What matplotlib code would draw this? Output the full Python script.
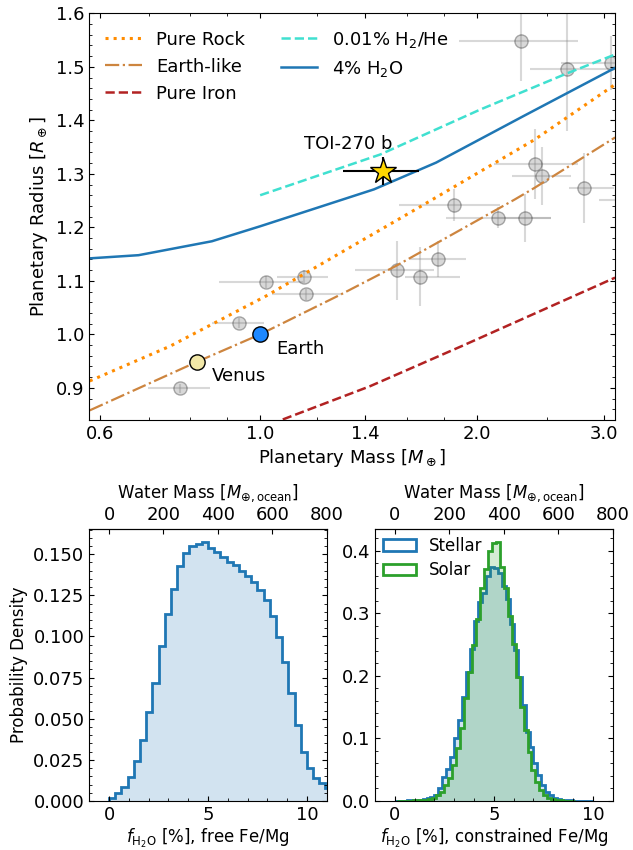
import numpy as np
import matplotlib
matplotlib.use("Agg")
import matplotlib.pyplot as plt
from matplotlib.ticker import FixedLocator, FixedFormatter, MultipleLocator, NullLocator, FormatStrFormatter
from matplotlib.patches import Patch

# ---------------- data: mass-radius panel ----------------
rock_mass = [0.58, 0.75, 1.02, 1.675, 2.405, 3.11]
rock_radius = [0.913, 0.978, 1.072, 1.24, 1.364, 1.467]
earthlike_mass = [0.58, 0.818, 1.0, 1.296, 1.544, 2.256, 2.405, 3.11]
earthlike_radius = [0.858, 0.949, 1.0, 1.075, 1.128, 1.252, 1.274, 1.368]
iron_mass = [1.075, 1.42, 1.904, 3.11]
iron_radius = [0.841, 0.903, 0.978, 1.106]
h2he_mass = [1.0, 1.467, 2.02, 2.67, 3.11]
h2he_radius = [1.26, 1.336, 1.42, 1.488, 1.523]
h2o_mass = [0.579, 0.678, 0.857, 1.0, 1.088, 1.439, 1.755, 2.321, 3.11]
h2o_radius = [1.142, 1.148, 1.174, 1.202, 1.218, 1.271, 1.321, 1.408, 1.498]

sample_mass = [2.30, 2.67, 3.07, 2.41, 2.46, 2.82, 1.86, 2.14, 2.33, 1.547, 1.665,
               1.765, 1.018, 1.149, 1.158, 0.935, 0.773, 3.30]
sample_radius = [1.549, 1.495, 1.507, 1.318, 1.296, 1.274, 1.241, 1.218, 1.218, 1.12,
                 1.108, 1.141, 1.098, 1.108, 1.075, 1.021, 0.899, 1.252]
sample_mass_lo = [1.89, 2.37, 2.62, 2.11, 2.24, 2.68, 1.56, 1.81, 2.10, 1.355, 1.589,
                  1.617, 0.877, 1.057, 1.038, 0.857, 0.699, 2.95]
sample_mass_hi = [2.76, 3.30, 3.60, 2.76, 2.70, 3.10, 2.15, 2.53, 2.53, 1.744, 1.893,
                  1.931, 1.147, 1.244, 1.296, 1.014, 0.852, 3.70]
sample_radius_err = [0.076, 0.115, 0.05, 0.065, 0.055, 0.065, 0.03, 0.02, 0.045, 0.055,
                     0.055, 0.033, 0.012, 0.012, 0.01, 0.01, 0.008, 0.03]

earth_mr = (1.0, 1.0)
venus_mr = (0.818, 0.949)
toi_mass, toi_radius = 1.482, 1.305
toi_mass_lo, toi_mass_hi = 1.303, 1.662
toi_radius_err = 0.026

mass_ticks = [0.6, 1.0, 1.4, 2.0, 3.0]
mass_tick_labels = ["0.6", "1.0", "1.4", "2.0", "3.0"]

# ---------------- data: water fraction histograms ----------------
free_start, free_width = 0.0, 0.3125
free_density = [0.002, 0.0047, 0.0083, 0.0144, 0.0242, 0.037, 0.054, 0.072, 0.094,
                0.1137, 0.129, 0.1428, 0.1508, 0.1553, 0.1565, 0.1573, 0.154, 0.1516,
                0.1484, 0.145, 0.1434, 0.14, 0.1369, 0.1334, 0.1284, 0.1222, 0.1127,
                0.0995, 0.0844, 0.0658, 0.046, 0.0299, 0.0198, 0.0139, 0.0107, 0.0077]

stellar_start, stellar_width = 0.0, 0.2
stellar_density = [0.0003, 0.0005, 0.0005, 0.0008, 0.001, 0.0012, 0.002, 0.003, 0.005,
                   0.007, 0.0096, 0.020, 0.0385, 0.0515, 0.071, 0.100, 0.129, 0.166,
                   0.206, 0.243, 0.288, 0.318, 0.333, 0.36, 0.374, 0.372, 0.365, 0.344,
                   0.323, 0.283, 0.241, 0.198, 0.153, 0.111, 0.087, 0.06, 0.0415, 0.0255,
                   0.015, 0.0096, 0.0053, 0.003, 0.002, 0.0012, 0.0008, 0.0005, 0.0004,
                   0.0003, 0.0002, 0.0002]

solar_start, solar_width = 0.1, 0.2
solar_density = [0.0003, 0.0003, 0.0005, 0.0005, 0.0008, 0.001, 0.0012, 0.002, 0.003,
                 0.005, 0.009, 0.015, 0.025, 0.036, 0.057, 0.084, 0.116, 0.164, 0.206,
                 0.249, 0.291, 0.34, 0.371, 0.40, 0.413, 0.414, 0.375, 0.34, 0.296,
                 0.251, 0.198, 0.150, 0.113, 0.079, 0.049, 0.031, 0.0175, 0.0096, 0.005,
                 0.003, 0.0015, 0.001, 0.0005, 0.0003, 0.0002]

oceans_per_percent = 800 / 11.0
water_ticks = [0, 200, 400, 600, 800]

# ---------------- style ----------------
plt.rcParams.update({
    "font.family": "DejaVu Sans",
    "font.size": 13,
    "mathtext.fontset": "dejavusans",
    "xtick.direction": "in",
    "ytick.direction": "in",
    "xtick.top": True,
    "ytick.right": True,
    "xtick.labelsize": 13,
    "ytick.labelsize": 13,
    "axes.labelsize": 13,
})

fig = plt.figure(figsize=(6.33, 8.5), dpi=100)
W, H = 633.0, 850.0

# ---------------- top panel ----------------
ax = fig.add_axes([89.2 / W, 1 - 420 / H, (614.7 - 89.2) / W, (420 - 13.3) / H])
ax.set_xscale("log")

ax.plot(rock_mass, rock_radius, ls=":", lw=2.2, color="darkorange", label="Pure Rock")
ax.plot(earthlike_mass, earthlike_radius, ls="-.", lw=1.6, color="peru", label="Earth-like")
ax.plot(iron_mass, iron_radius, ls="--", lw=1.8, color="firebrick", label="Pure Iron")
ax.plot(h2he_mass, h2he_radius, ls="--", lw=1.8, color="turquoise", label="0.01% H$_2$/He")
ax.plot(h2o_mass, h2o_radius, ls="-", lw=1.8, color="#1f77b4", label="4% H$_2$O")

sm = np.array(sample_mass)
xerr = [sm - np.array(sample_mass_lo), np.array(sample_mass_hi) - sm]
ax.errorbar(sample_mass, sample_radius, xerr=xerr, yerr=sample_radius_err, fmt="o",
            ms=9.5, color="grey", mfc="grey", mec="k", ecolor="grey", elinewidth=1.5,
            capsize=0, alpha=0.3, zorder=1)

ax.plot(*earth_mr, "o", ms=11, mfc="#1e88ff", mec="k", mew=1, zorder=4)
ax.plot(*venus_mr, "o", ms=11, mfc="#f2e8a8", mec="k", mew=1, zorder=4)
ax.text(1.054, 0.972, "Earth", ha="left", va="center")
ax.text(0.857, 0.922, "Venus", ha="left", va="center")

ax.errorbar([toi_mass], [toi_radius],
            xerr=[[toi_mass - toi_mass_lo], [toi_mass_hi - toi_mass]],
            yerr=toi_radius_err, fmt="*", ms=19, mfc="gold", mec="k", mew=1,
            ecolor="k", elinewidth=1.5, capsize=0, zorder=6)
ax.text(1.327, 1.355, "TOI-270 b", ha="center", va="center")

ax.set_xlim(0.579, 3.106)
ax.set_ylim(0.84, 1.6)
ax.xaxis.set_major_locator(FixedLocator(mass_ticks))
ax.xaxis.set_major_formatter(FixedFormatter(mass_tick_labels))
ax.xaxis.set_minor_locator(FixedLocator([0.7, 0.8, 0.9, 1.2, 1.6, 1.8, 2.5]))
ax.xaxis.set_minor_formatter(FixedFormatter([]))
ax.yaxis.set_major_locator(MultipleLocator(0.1))
ax.yaxis.set_minor_locator(MultipleLocator(0.02))
ax.tick_params(which="both", top=True, right=True)
ax.set_xlabel(r"Planetary Mass [$M_\oplus$]", labelpad=3)
ax.set_ylabel(r"Planetary Radius [$R_\oplus$]")
ax.legend(ncol=2, loc="upper left", frameon=False, fontsize=13)


def f2w(f):
    return f * oceans_per_percent


def w2f(w):
    return w / oceans_per_percent


def style_hist_axis(a, ymajor, yminor):
    a.set_xlim(-1, 11)
    a.xaxis.set_major_locator(MultipleLocator(5))
    a.xaxis.set_minor_locator(MultipleLocator(1))
    a.yaxis.set_major_locator(MultipleLocator(ymajor))
    a.yaxis.set_minor_locator(MultipleLocator(yminor))
    a.tick_params(which="both", top=False, right=True)
    sec = a.secondary_xaxis("top", functions=(f2w, w2f))
    sec.set_xticks(water_ticks)
    sec.xaxis.set_minor_locator(NullLocator())
    sec.tick_params(direction="in")
    sec.set_xlabel(r"Water Mass [$M_{\oplus,\rm ocean}$]", fontsize=12, labelpad=6)
    return sec


# ---------------- bottom-left panel ----------------
axl = fig.add_axes([89.3 / W, 1 - 801 / H, 237.4 / W, 271.7 / H])
free_edges = free_start + free_width * np.arange(len(free_density) + 1)
axl.stairs(free_density, free_edges, fill=True, color="#1f77b4", alpha=0.2, lw=0)
axl.stairs(free_density, free_edges, color="#1f77b4", lw=2)
axl.set_ylim(0, max(free_density) * 1.05)
style_hist_axis(axl, 0.025, 0.005)
axl.yaxis.set_major_formatter(FormatStrFormatter("%.3f"))
axl.set_ylabel("Probability Density", fontsize=12)
axl.set_xlabel(r"$f_{\rm H_2O}$ [%], free Fe/Mg", fontsize=12, labelpad=2)

# ---------------- bottom-right panel ----------------
axr = fig.add_axes([375.0 / W, 1 - 801 / H, 237.7 / W, 271.7 / H])
stellar_edges = stellar_start + stellar_width * np.arange(len(stellar_density) + 1)
solar_edges = solar_start + solar_width * np.arange(len(solar_density) + 1)
axr.stairs(stellar_density, stellar_edges, fill=True, color="#1f77b4", alpha=0.2, lw=0)
axr.stairs(stellar_density, stellar_edges, color="#1f77b4", lw=2)
axr.stairs(solar_density, solar_edges, fill=True, color="#2ca02c", alpha=0.2, lw=0)
axr.stairs(solar_density, solar_edges, color="#2ca02c", lw=2)
axr.set_ylim(0, max(solar_density) * 1.05)
style_hist_axis(axr, 0.1, 0.02)
axr.set_xlabel(r"$f_{\rm H_2O}$ [%], constrained Fe/Mg", fontsize=12, labelpad=2)
handles = [Patch(facecolor="none", edgecolor="#1f77b4", lw=2),
           Patch(facecolor="none", edgecolor="#2ca02c", lw=2)]
axr.legend(handles, ["Stellar", "Solar"], loc="upper left", frameon=False,
           fontsize=12, borderaxespad=0.35, borderpad=0.1, labelspacing=0.4,
           handletextpad=0.8)

fig.savefig("out.png", dpi=100)
